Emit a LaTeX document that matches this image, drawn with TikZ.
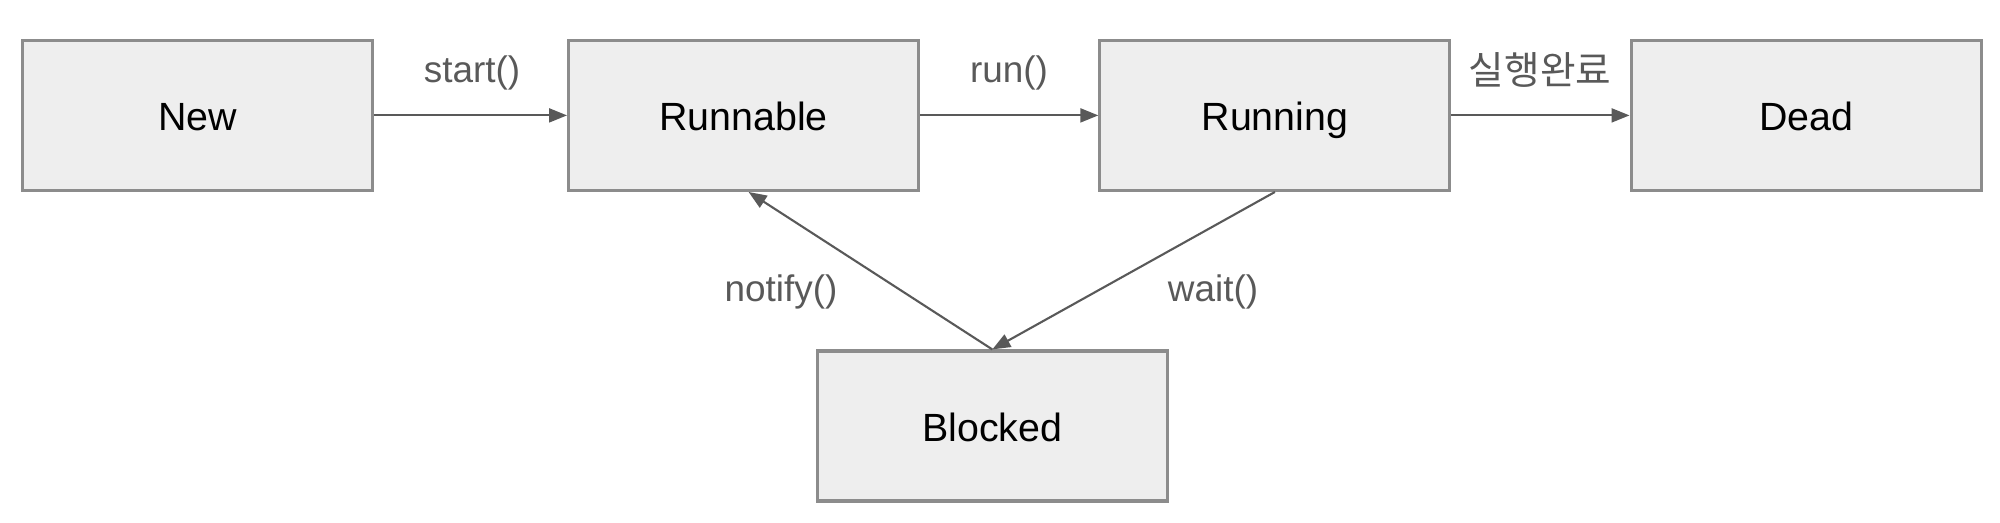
\documentclass[tikz,border=0pt]{standalone}
\usepackage{fontspec}
\setmainfont{Liberation Sans}
\newfontfamily\krfont{Noto Sans CJK KR}
\definecolor{boxfill}{RGB}{238, 238, 238}
\definecolor{boxline}{RGB}{140, 140, 140}
\definecolor{edgegray}{RGB}{89, 89, 89}
\usetikzlibrary{arrows.meta}

\tikzset{
  state/.style={draw=boxline, fill=boxfill, line width=0.9pt, minimum width=3.5cm, minimum height=1.5cm, inner sep=0pt, text height=2.1ex, text depth=0.45ex, font=\fontsize{11.2}{13}\selectfont},
  trans/.style={-{Triangle[length=0.18cm, width=0.14cm]}, draw=edgegray, line width=0.6pt},
  translbl/.style={font=\fontsize{10.5}{12}\selectfont, text=edgegray}
}

\begin{document}
\begin{tikzpicture}
  \useasboundingbox (0, 0) rectangle (20, -5.23);

  % States
  \node[state] (new) at (1.977, -1.154) {New};
  \node[state] (runnable) at (7.436, -1.154) {Runnable};
  \node[state] (running) at (12.749, -1.154) {Running};
  \node[state] (dead) at (18.061, -1.154) {Dead};
  \node[state] (blocked) at (9.923, -4.26) {Blocked};

  % Transitions
  \draw[trans] (new) -- (runnable);
  \draw[trans] (runnable) -- (running);
  \draw[trans] (running) -- (dead);
  \draw[trans] (running.south) -- (blocked.north);
  \draw[trans] (blocked.north) -- ([xshift=0.05cm]runnable.south);

  % Labels
  \node[translbl] (startlbl) at (4.72, -0.73) {start()};
  \node[translbl] (runlbl) at (10.09, -0.73) {run()};
  \node[translbl, font=\fontsize{11}{12}\selectfont] (donelbl) at (15.40, -0.70) {\krfont 실행완료};
  \node[translbl] (notifylbl) at (7.81, -2.92) {notify()};
  \node[translbl] (waitlbl) at (12.13, -2.92) {wait()};
\end{tikzpicture}
\end{document}
